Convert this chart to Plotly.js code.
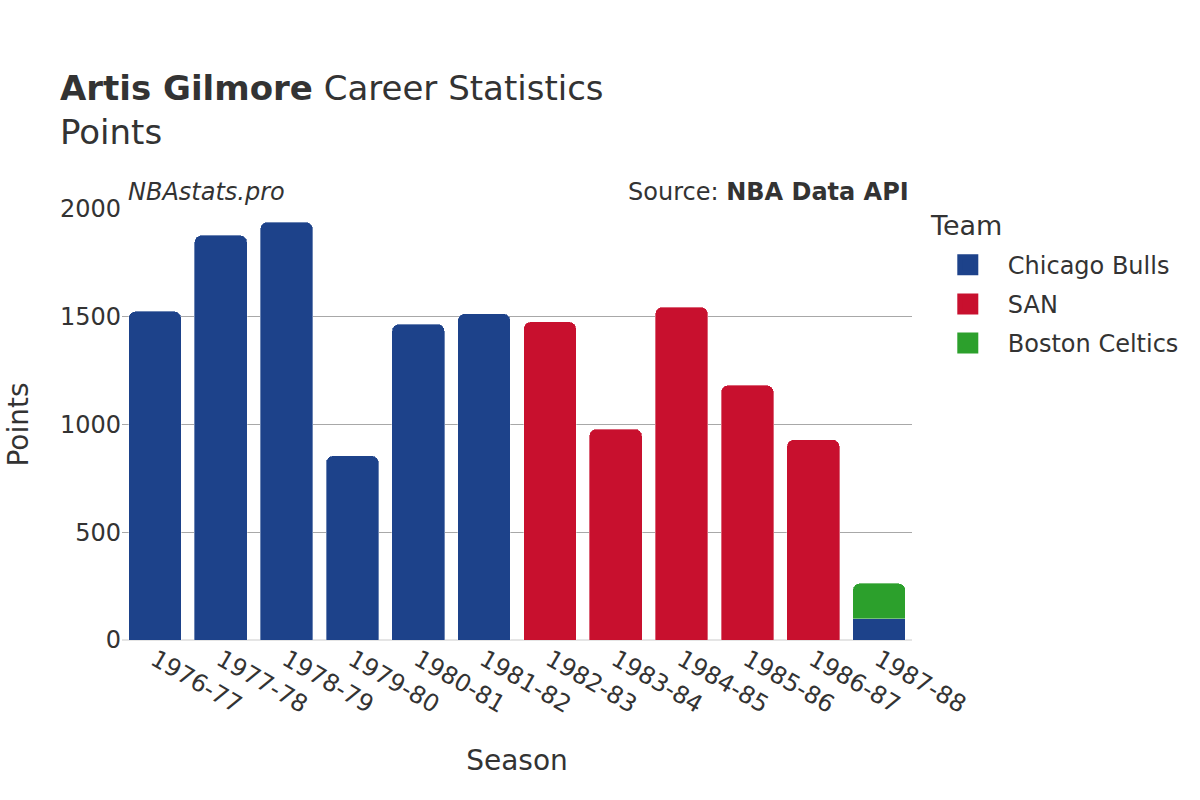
<!DOCTYPE html>
<html>
<head>
<meta charset="utf-8">
<script src="https://cdn.plot.ly/plotly-3.0.1.min.js"></script>
<style>html,body{margin:0;padding:0;background:#fff;}#chart{width:1200px;height:800px;}</style>
</head>
<body>
<div id="chart"></div>
<script>
const seasons = ["1976-77","1977-78","1978-79","1979-80","1980-81","1981-82","1982-83","1983-84","1984-85","1985-86","1986-87","1987-88"];
const teams = ["Chicago Bulls","SAN","Boston Celtics"];
const teamColors = ["#1d428a","#c8102e","#2ca02c"];
const bullsSeasons = ["1976-77","1977-78","1978-79","1979-80","1980-81","1981-82","1987-88"];
const bullsPoints = [1525, 1878, 1939, 855, 1466, 1514, 99];
const sanSeasons = ["1982-83","1983-84","1984-85","1985-86","1986-87"];
const sanPoints = [1476, 979, 1545, 1182, 930];
const bostonSeasons = ["1987-88"];
const bostonPoints = [164];

const font = "DejaVu Sans, sans-serif";
const txt = "#333333";

const seriesX = [bullsSeasons, sanSeasons, bostonSeasons];
const seriesY = [bullsPoints, sanPoints, bostonPoints];

const traces = [];
teams.forEach((t, i) => {
  traces.push({type:"bar", name:t, legendgroup:"g"+i, showlegend:false, x:seriesX[i], y:seriesY[i],
    marker:{color:teamColors[i], cornerradius:7, line:{color:"rgba(255,255,255,0.35)", width:1}}});
});
// legend entries (no data drawn)
teams.forEach((t, i) => {
  traces.push({type:"scatter", mode:"markers", name:t, legendgroup:"g"+i, x:[null], y:[null], hoverinfo:"skip",
    marker:{symbol:"square", size:16, color:teamColors[i], line:{color:teamColors[i], width:5}}});
});

const layout = {
  width:1200, height:800,
  barmode:"stack",
  bargap:0.2,
  paper_bgcolor:"#fff", plot_bgcolor:"#fff",
  font:{family:font, color:txt, size:22},
  margin:{l:122, r:288, t:209, b:160},
  title:{text:"<b>Artis Gilmore</b> Career Statistics<br>Points", x:0.05, xanchor:"left", y:0.875, yanchor:"top", font:{size:34, color:txt, family:font}},
  xaxis:{title:{text:"Season", font:{size:28}, standoff:32}, categoryorder:"array", categoryarray:seasons, tickangle:30, tickfont:{size:24}, showgrid:false, ticks:""},
  yaxis:{title:{text:"Points", font:{size:28}, standoff:23}, range:[0,2000], dtick:500, gridcolor:"#a8a8a8", gridwidth:1, zeroline:true, zerolinecolor:"#e5e5e5", zerolinewidth:2, tickfont:{size:24}, ticks:""},
  legend:{font:{size:24}, x:1.02, xanchor:"left", y:0.922, yanchor:"top", traceorder:"grouped", tracegroupgap:5, itemwidth:70, itemsizing:"trace"},
  annotations:[
    {text:"Team", xref:"paper", yref:"paper", x:1.0203, y:0.9606, xanchor:"left", yanchor:"middle", showarrow:false, font:{size:27, color:txt}},
    {text:"<i>NBAstats.pro</i>", xref:"paper", yref:"paper", x:0.005, y:1.0, xanchor:"left", yanchor:"bottom", yshift:1, showarrow:false, font:{size:24, color:txt}},
    {text:"Source: <b>NBA Data API</b>", xref:"paper", yref:"paper", x:0.999, y:1.0, xanchor:"right", yanchor:"bottom", yshift:1, showarrow:false, font:{size:24, color:txt}}
  ]
};

Plotly.newPlot("chart", traces, layout, {displayModeBar:false});
</script>
</body>
</html>
